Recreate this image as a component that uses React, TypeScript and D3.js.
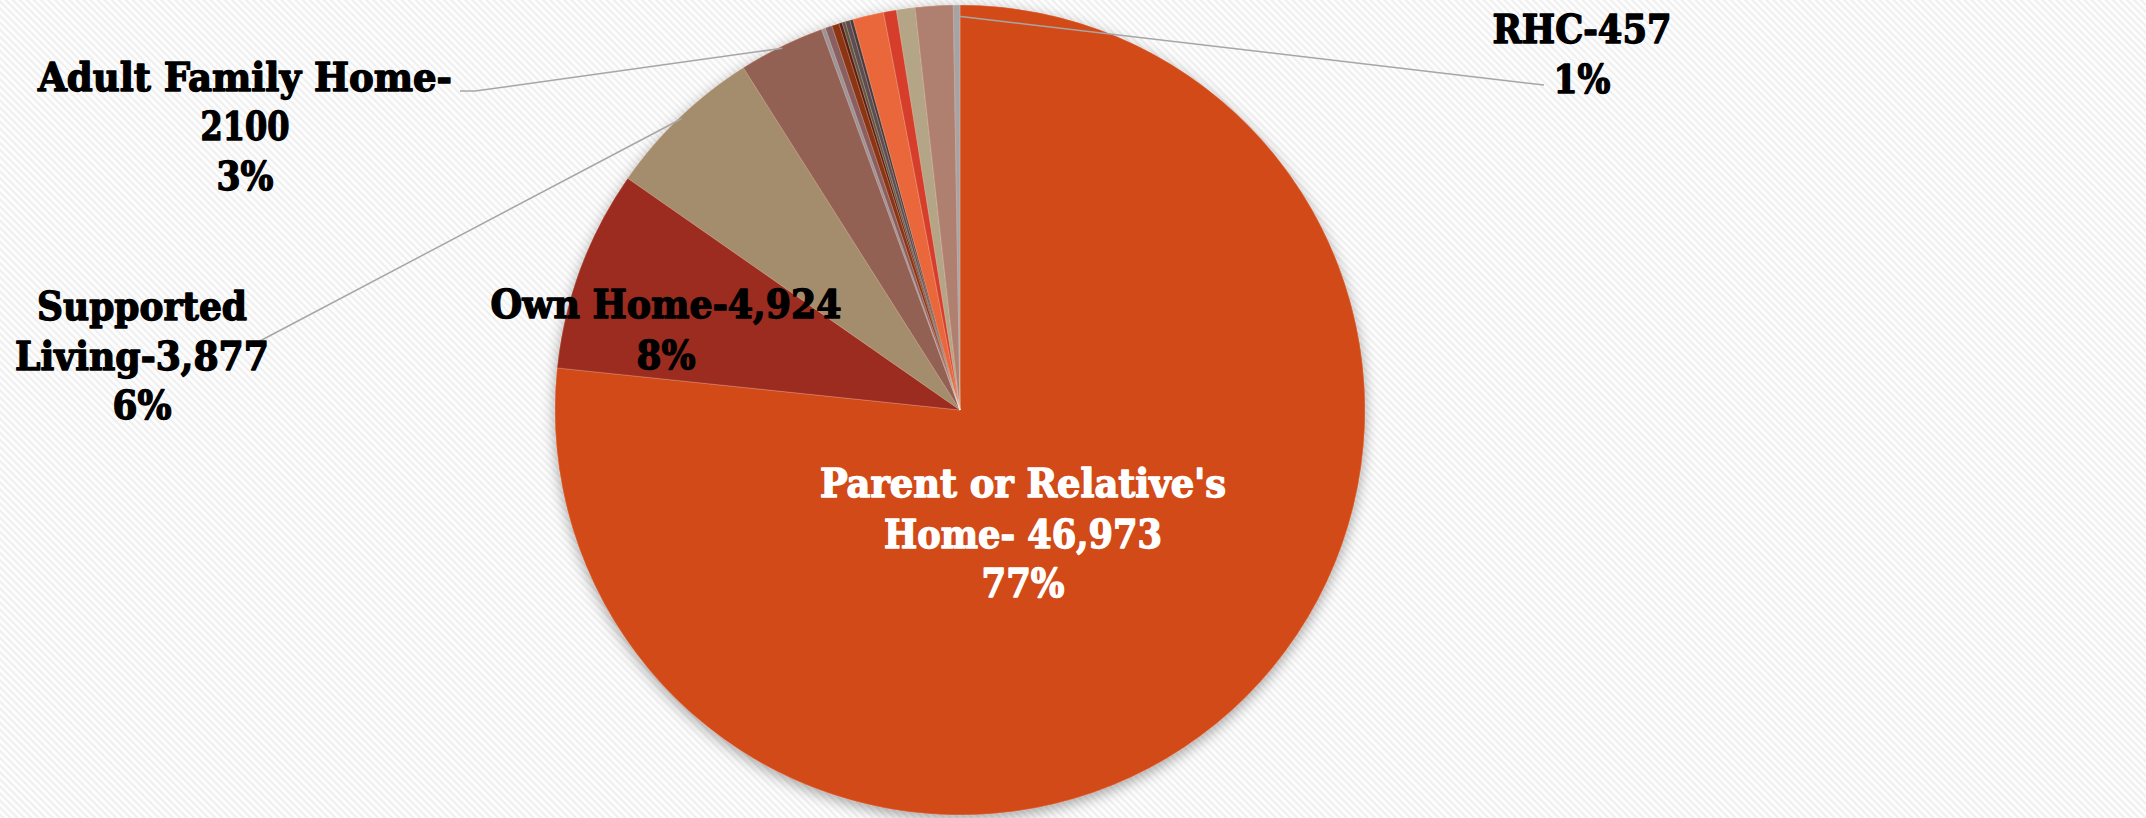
import React, { useEffect } from "react";
import * as d3 from "d3";

// ---------- data ----------
const categories = [
  "Parent or Relative's Home",
  "Own Home",
  "Supported Living",
  "Adult Family Home",
  "Group Home",
  "Companion Home",
  "Alternative Living",
  "Nursing Facility",
  "Foster Care",
  "Group Training Home",
  "Boarding Home",
  "Licensed Staffed Residential",
  "State Operated Living Alternative",
  "RHC",
  "Other",
  "Unknown",
];
const values = [46973, 4924, 3877, 2100, 97, 167, 179, 77, 80, 117, 78, 756, 312, 457, 921, 162];

// ---------- styles ----------
const colors = [
  "#D24A18", "#9B2C1F", "#A38D6C", "#936153", "#9A9497", "#8A5F62", "#8B3512",
  "#5E1D10", "#5E5843", "#5B4E52", "#4A3A3C", "#E9673A", "#D63D2B", "#B4A587",
  "#AF7F70", "#A7A2A3",
];

const W = 2146;
const H = 818;
const CX = 960;
const CY = 410;
const R = 405;

// label layout (positions only; text is built from data)
type LabelCfg = {
  idx: number;
  lines: (name: string, value: string, pct: string) => string[];
  cx: number;
  baselines: number[];
  widths: number[];
  fill: string;
  leader?: { pts: [number, number][]; angleDeg?: number; rf: number };
};

const fmtComma = d3.format(",");
const fmtPct = d3.format(".0%");

const labels: LabelCfg[] = [
  {
    idx: 0,
    lines: (n, v, p) => ["Parent or Relative's", "Home- " + v, p],
    cx: 1023,
    baselines: [497, 548, 597],
    widths: [406, 278, 83],
    fill: "#FFFFFF",
  },
  {
    idx: 1,
    lines: (n, v, p) => [n + "-" + v, p],
    cx: 666,
    baselines: [318, 369],
    widths: [351, 59],
    fill: "#000000",
  },
  {
    idx: 2,
    lines: (n, v, p) => ["Supported", "Living-" + v, p],
    cx: 142,
    baselines: [320, 370, 419],
    widths: [210, 254, 59],
    fill: "#000000",
    leader: { pts: [[258, 342]], rf: 0.995 },
  },
  {
    idx: 3,
    lines: (n, v, p) => [n + "-", String(values[3]), p],
    cx: 245,
    baselines: [91, 140, 190],
    widths: [414, 89, 57],
    fill: "#000000",
    leader: { pts: [[460, 91], [475, 91]], rf: 0.995 },
  },
  {
    idx: 13,
    lines: (n, v, p) => [n + "-" + v, p],
    cx: 1582,
    baselines: [43, 93],
    widths: [179, 57],
    fill: "#000000",
    leader: { pts: [[1544, 85]], angleDeg: -0.2, rf: 0.972 },
  },
];

export default function App() {
  useEffect(() => {
    document.body.style.margin = "0";
    document.body.style.overflow = "hidden";
  }, []);

  const total = d3.sum(values);
  const pie = d3
    .pie<number>()
    .sort(null)
    .value((d) => d)
    .startAngle(0)
    .endAngle(2 * Math.PI);
  const arcs = pie(values);
  const arcGen = d3.arc<d3.PieArcDatum<number>>().innerRadius(0).outerRadius(R);

  const line = d3.line<[number, number]>();

  return (
    <svg width={W} height={H} style={{ display: "block", position: "absolute", left: 0, top: 0 }}>
      <defs>
        <pattern id="stripes" width="5" height="5" patternUnits="userSpaceOnUse" patternTransform="rotate(45)">
          <rect width="5" height="5" fill="#FDFDFD" />
          <rect width="5" height="2" fill="#EFEFEF" />
        </pattern>
        <filter id="shadow" x="-20%" y="-20%" width="140%" height="140%">
          <feDropShadow dx="0" dy="4" stdDeviation="7" floodColor="#000" floodOpacity="0.35" />
        </filter>
      </defs>
      <rect width={W} height={H} fill="url(#stripes)" />
      <g transform={`translate(${CX},${CY})`}>
        <circle r={R} fill="#D24A18" filter="url(#shadow)" />
        {arcs.map((a, i) => (
          <path
            key={categories[i]}
            d={arcGen(a) || ""}
            fill={colors[i]}
            stroke="rgba(255,255,255,0.35)"
            strokeWidth={0.6}
          />
        ))}
      </g>
      {labels.map((l) => {
        if (!l.leader) return null;
        const a = arcs[l.idx];
        const ang = l.leader.angleDeg !== undefined ? (l.leader.angleDeg * Math.PI) / 180 : (a.startAngle + a.endAngle) / 2;
        const ex = CX + Math.sin(ang) * R * l.leader.rf;
        const ey = CY - Math.cos(ang) * R * l.leader.rf;
        const pts: [number, number][] = [...l.leader.pts, [ex, ey]];
        return (
          <path key={"ld" + l.idx} d={line(pts) || ""} fill="none" stroke="#A6A6A6" strokeWidth={1.5} />
        );
      })}
      {labels.map((l) => {
        const v = values[l.idx];
        const txt = l.lines(categories[l.idx], fmtComma(v), fmtPct(v / total));
        return (
          <g key={"lb" + l.idx}>
            {txt.map((t, j) => (
              <text
                key={j}
                x={l.cx}
                y={l.baselines[j]}
                textAnchor="middle"
                fontFamily="'DejaVu Serif Condensed', 'DejaVu Serif', serif"
                fontWeight="bold"
                fontSize={39}
                fill={l.fill}
                stroke={l.fill}
                strokeWidth={1.3}
                strokeLinejoin="round"
                textLength={l.widths[j]}
                lengthAdjust="spacingAndGlyphs"
              >
                {t}
              </text>
            ))}
          </g>
        );
      })}
    </svg>
  );
}
